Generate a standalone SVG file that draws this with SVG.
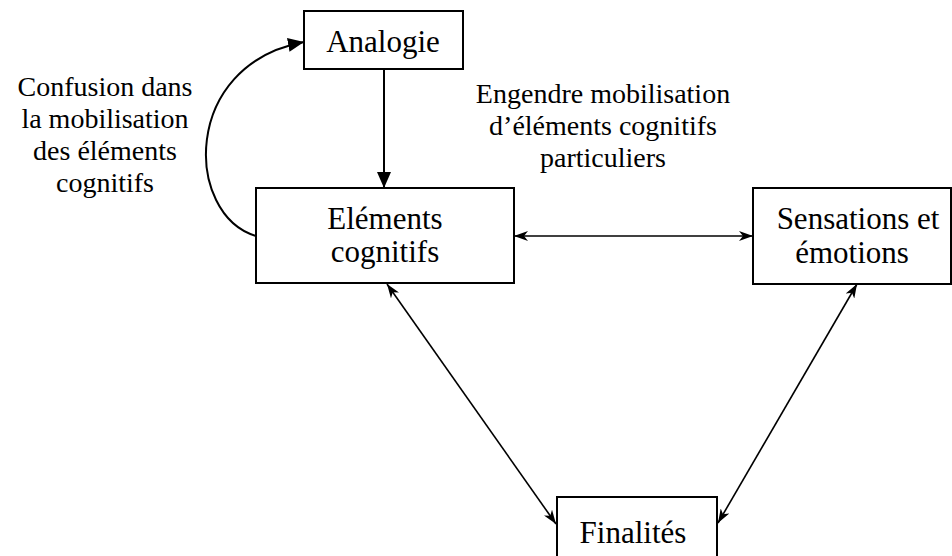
<svg xmlns="http://www.w3.org/2000/svg" width="952" height="556" viewBox="0 0 952 556">
<defs>
<style>
.box{fill:#fff;stroke:#000;stroke-width:2}
.t{font-family:'Liberation Serif',Tinos,'Times New Roman',Times,'DejaVu Serif',serif;fill:#000;text-anchor:middle}
.n{font-size:31px}
.l{font-size:28px}
.c{fill:none;stroke:#000;stroke-width:2}
.d{fill:none;stroke:#000;stroke-width:1.6}
</style>
<marker id="tri" markerUnits="userSpaceOnUse" viewBox="0 0 16 14" refX="16" refY="7" markerWidth="16" markerHeight="14" orient="auto">
<path d="M0,0 L16,7 L0,14 z" fill="#000"/>
</marker>
<marker id="st" markerUnits="userSpaceOnUse" viewBox="0 0 14 10" refX="14" refY="5" markerWidth="14" markerHeight="10" orient="auto-start-reverse">
<path d="M0,0 L14,5 L0,10 L4,5 z" fill="#000"/>
</marker>
</defs>
<g id="connectors">
<path class="c" d="M256,236 C185,215 180,65 304,42" marker-end="url(#tri)"/>
<line class="c" x1="384" y1="69" x2="384" y2="188" marker-end="url(#tri)"/>
<line class="d" x1="514" y1="236" x2="753" y2="236" marker-start="url(#st)" marker-end="url(#st)"/>
<line class="d" x1="387" y1="284" x2="556" y2="524" marker-start="url(#st)" marker-end="url(#st)"/>
<line class="d" x1="857" y1="284" x2="718" y2="523" marker-start="url(#st)" marker-end="url(#st)"/>
</g>
<g id="analogie">
<rect class="box" x="304" y="11" width="159" height="58"/>
<text class="t n" x="383" y="52">Analogie</text>
</g>
<g id="elements">
<rect class="box" x="256" y="188" width="258" height="95"/>
<text class="t n" x="385" y="229">Eléments</text>
<text class="t n" x="385" y="262">cognitifs</text>
</g>
<g id="sensations">
<rect class="box" x="753" y="188" width="198" height="96"/>
<text class="t n" x="858" y="229">Sensations et</text>
<text class="t n" x="852" y="263">émotions</text>
</g>
<g id="finalites">
<rect class="box" x="557" y="497" width="160" height="80"/>
<text class="t n" x="633" y="543">Finalités</text>
</g>
<g id="label-confusion">
<text class="t l" x="105" y="96">Confusion dans</text>
<text class="t l" x="105" y="128">la mobilisation</text>
<text class="t l" x="105" y="160">des éléments</text>
<text class="t l" x="105" y="192">cognitifs</text>
</g>
<g id="label-engendre">
<text class="t l" x="603" y="103">Engendre mobilisation</text>
<text class="t l" x="603" y="135">d’éléments cognitifs</text>
<text class="t l" x="603" y="167">particuliers</text>
</g>
</svg>
